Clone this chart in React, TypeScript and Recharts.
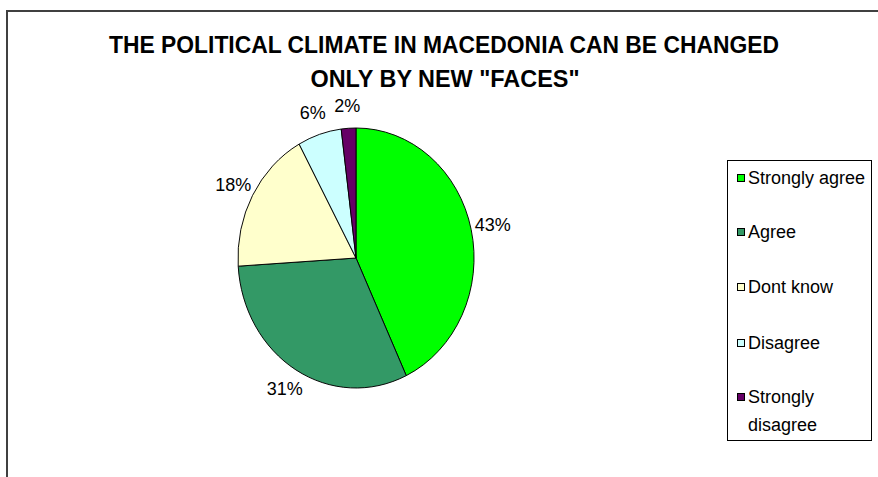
import React from 'react';
import { PieChart, Pie, Cell, Legend, Customized } from 'recharts';

const categories = ['Strongly agree', 'Agree', 'Dont know', 'Disagree', 'Strongly disagree'];
const values = [43, 31, 18, 6, 2];
const colors = ['#00FF00', '#339966', '#FFFFCC', '#CCFFFF', '#660066'];
const titleLines = ['THE POLITICAL CLIMATE IN MACEDONIA CAN BE CHANGED', 'ONLY BY NEW "FACES"'];

const data = categories.map((name, i) => ({ name, value: values[i] }));

const CX = 356;
const CY = 258;
const R = 130;
const SX = 0.908;
const FONT = 'Arial, "Liberation Sans", sans-serif';

const renderLabel = (props: any) => {
  const { cx, cy, midAngle, outerRadius, value } = props;
  const rad = (midAngle * Math.PI) / 180;
  const off = 22;
  const x = cx + (outerRadius * SX + off) * Math.cos(rad);
  const y = cy - (outerRadius + off) * Math.sin(rad);
  return (
    <text x={x} y={y} textAnchor="middle" dominantBaseline="central" fontSize={18} fontFamily={FONT} fill="#000">
      {`${value}%`}
    </text>
  );
};

const Title = () => (
  <g>
    <text x={444} y={53} textAnchor="middle" fontSize={24} fontWeight="bold" fontFamily={FONT} fill="#000" textLength={670} lengthAdjust="spacingAndGlyphs">
      {titleLines[0]}
    </text>
    <text x={445} y={87} textAnchor="middle" fontSize={24} fontWeight="bold" fontFamily={FONT} fill="#000" textLength={269} lengthAdjust="spacingAndGlyphs">
      {titleLines[1]}
    </text>
  </g>
);

const LegendBox = () => {
  const rows = [
    { i: 0, y: 18, lines: ['Strongly agree'] },
    { i: 1, y: 72, lines: ['Agree'] },
    { i: 2, y: 127, lines: ['Dont know'] },
    { i: 3, y: 183, lines: ['Disagree'] },
    { i: 4, y: 237, lines: ['Strongly', 'disagree'] },
  ];
  return (
    <div style={{ position: 'relative', width: 145, height: 281, border: '1px solid #000', boxSizing: 'border-box', background: '#fff' }}>
      {rows.map((r) => (
        <React.Fragment key={r.i}>
          <div
            style={{
              position: 'absolute',
              left: 9,
              top: r.y - 5,
              width: 8,
              height: 8,
              background: colors[r.i],
              border: '1px solid #000',
              boxSizing: 'border-box',
            }}
          />
          {r.lines.map((t, k) => (
            <div
              key={k}
              style={{
                position: 'absolute',
                left: 20,
                top: r.y - 11 + k * 28,
                fontSize: 18,
                lineHeight: '20px',
                fontFamily: FONT,
                color: '#000',
                whiteSpace: 'nowrap',
              }}
            >
              {t}
            </div>
          ))}
        </React.Fragment>
      ))}
    </div>
  );
};

export default function App() {
  return (
    <div style={{ position: 'absolute', left: 0, top: 0, width: 878, height: 477, background: '#fff', overflow: 'hidden' }}>
      <style>{`.recharts-sector { transform: scale(${SX}, 1); transform-origin: ${CX}px ${CY}px; transform-box: view-box; }`}</style>
      <div
        style={{
          position: 'absolute',
          left: 6,
          top: 10,
          width: 900,
          height: 500,
          borderLeft: '2px solid #404040',
          borderTop: '2px solid #404040',
        }}
      />
      <div style={{ position: 'absolute', left: 0, top: 0 }}>
        <PieChart width={878} height={477} margin={{ top: 0, right: 0, bottom: 0, left: 0 }}>
          <Customized component={Title} />
          <Pie
            data={data}
            dataKey="value"
            nameKey="name"
            cx={CX}
            cy={CY}
            outerRadius={R}
            startAngle={90}
            endAngle={-270}
            stroke="#000"
            strokeWidth={1}
            label={renderLabel}
            labelLine={false}
            isAnimationActive={false}
          >
            {data.map((d, i) => (
              <Cell key={d.name} fill={colors[i]} />
            ))}
          </Pie>
          <Legend content={() => <LegendBox />} wrapperStyle={{ position: 'absolute', left: 727, top: 160, width: 145, height: 281 }} />
        </PieChart>
      </div>
    </div>
  );
}
